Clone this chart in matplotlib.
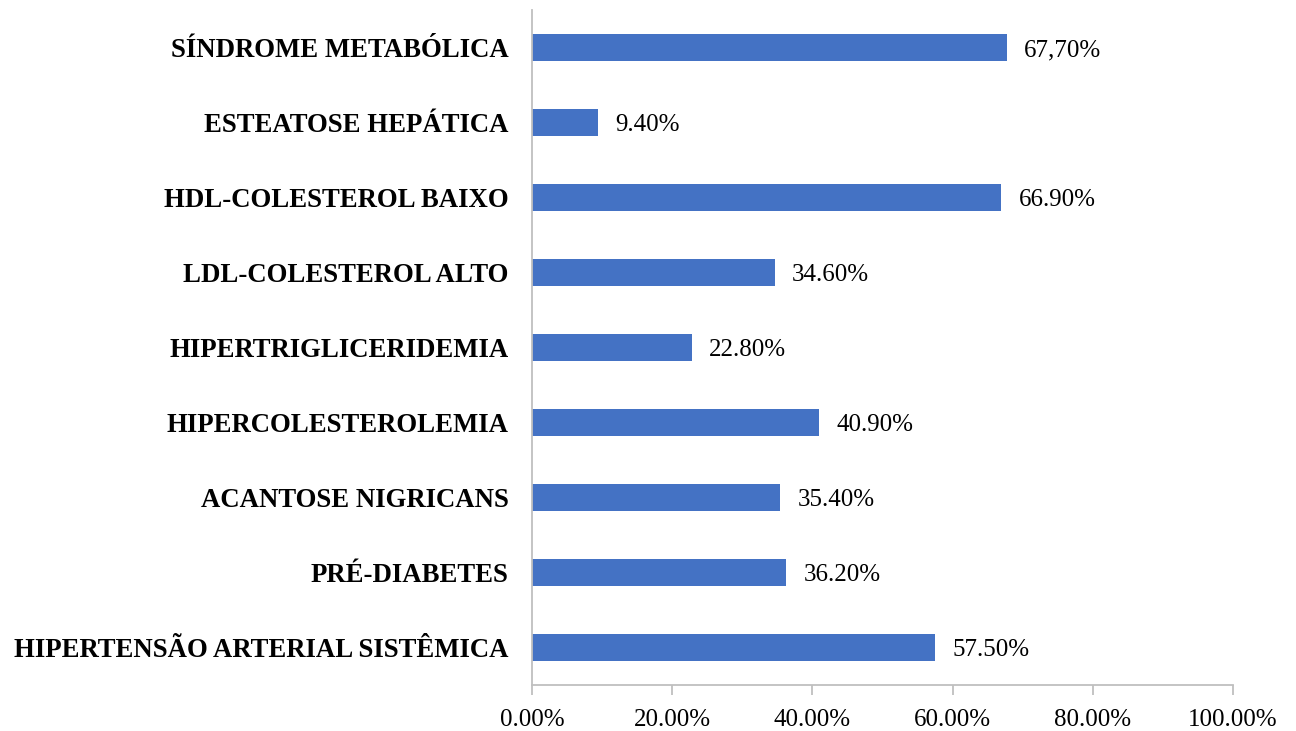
import matplotlib
matplotlib.use("Agg")
import matplotlib.pyplot as plt
from matplotlib.ticker import FixedLocator

categories = [
    "HIPERTENSÃO ARTERIAL SISTÊMICA",
    "PRÉ-DIABETES",
    "ACANTOSE NIGRICANS",
    "HIPERCOLESTEROLEMIA",
    "HIPERTRIGLICERIDEMIA",
    "LDL-COLESTEROL ALTO",
    "HDL-COLESTEROL BAIXO",
    "ESTEATOSE HEPÁTICA",
    "SÍNDROME METABÓLICA",
]
values = [57.5, 36.2, 35.4, 40.9, 22.8, 34.6, 66.9, 9.4, 67.7]
value_labels = ["57.50%", "36.20%", "35.40%", "40.90%", "22.80%",
                "34.60%", "66.90%", "9.40%", "67,70%"]
x_ticks = [0, 20, 40, 60, 80, 100]
x_tick_labels = ["0.00%", "20.00%", "40.00%", "60.00%", "80.00%", "100.00%"]

plt.rcParams["font.family"] = ["Liberation Serif", "DejaVu Serif"]

fig = plt.figure(figsize=(12.96, 7.31), dpi=100)
ax = fig.add_axes([532 / 1296, 1 - 685 / 731, (1233 - 532) / 1296, 675 / 731])

pos = list(range(len(categories)))
ax.barh(pos, values, height=0.35, color="#4472C4", zorder=2)

for y, v, lab in zip(pos, values, value_labels):
    ax.text(v + 2.5, y, lab, va="center_baseline", ha="left",
            fontsize=18, color="#000000")

ax.set_xlim(0, 100)
ax.set_ylim(-0.5, len(categories) - 0.5)
ax.xaxis.set_major_locator(FixedLocator(x_ticks))
ax.set_xticklabels(x_tick_labels, fontsize=18)
ax.set_yticks(pos)
ax.set_yticklabels(categories, fontsize=19.3, fontweight="bold")

for side in ("top", "right"):
    ax.spines[side].set_visible(False)
for side in ("left", "bottom"):
    ax.spines[side].set_color("#BFBFBF")
    ax.spines[side].set_linewidth(1.3)

ax.tick_params(axis="x", length=7, width=1.3, color="#BFBFBF", pad=10)
ax.tick_params(axis="y", length=0, pad=17)

fig.savefig("out.png", dpi=100)
